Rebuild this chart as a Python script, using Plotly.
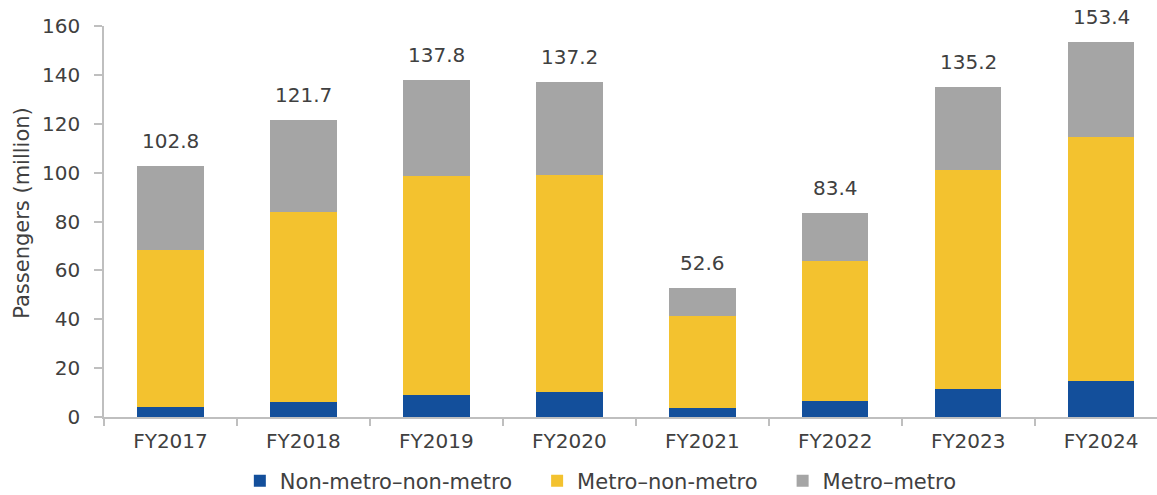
import plotly.graph_objects as go

categories = ["FY2017", "FY2018", "FY2019", "FY2020", "FY2021", "FY2022", "FY2023", "FY2024"]
non_metro_non_metro = [4.1, 6.3, 9.0, 10.1, 3.7, 6.7, 11.3, 14.8]
metro_non_metro = [64.2, 77.6, 89.6, 88.9, 37.5, 57.0, 89.8, 99.8]
metro_metro = [34.5, 37.8, 39.2, 38.2, 11.4, 19.7, 34.1, 38.8]
totals = [102.8, 121.7, 137.8, 137.2, 52.6, 83.4, 135.2, 153.4]

series_names = ["Non-metro\u2013non-metro", "Metro\u2013non-metro", "Metro\u2013metro"]
series_colors = ["#134F9B", "#F3C22F", "#A5A5A5"]

FONT = "DejaVu Sans"
TXT = "#404040"
AX = "#BFBFBF"
PAD = "\u00a0\u00a0\u00a0"

fig = go.Figure()
for name, vals, col in zip(series_names, [non_metro_non_metro, metro_non_metro, metro_metro], series_colors):
    fig.add_trace(go.Bar(
        x=categories, y=vals, name=name + PAD,
        marker=dict(color=col, line=dict(width=0)),
        width=0.5,
    ))

for c, t in zip(categories, totals):
    fig.add_annotation(
        x=c, y=t, text=f"{t:.1f}", showarrow=False,
        yanchor="bottom", yshift=11,
        font=dict(family=FONT, size=20, color=TXT),
    )

fig.add_annotation(
    text="Passengers (million)", textangle=-90, showarrow=False,
    xref="paper", yref="paper", x=-0.078, y=0.522,
    xanchor="center", yanchor="middle",
    font=dict(family=FONT, size=21, color=TXT),
)

fig.update_layout(
    width=1157, height=495,
    barmode="stack",
    plot_bgcolor="white", paper_bgcolor="white",
    margin=dict(l=104, r=0, t=26, b=78, autoexpand=False),
    font=dict(family=FONT, size=20, color=TXT),
    showlegend=True,
    legend=dict(
        orientation="h", x=0.129, xanchor="left", y=-0.164, yanchor="middle",
        font=dict(family=FONT, size=21, color=TXT),
        traceorder="normal",
        bgcolor="rgba(0,0,0,0)",
    ),
)

fig.update_xaxes(
    type="category", range=[-0.5, 7.42], automargin=False,
    showline=True, linecolor=AX, linewidth=1.5,
    ticks="outside", tickson="boundaries", ticklen=7, tickcolor=AX, tickwidth=1.5,
    ticklabelstandoff=5,
    showgrid=False, zeroline=False,
    tickfont=dict(family=FONT, size=20, color=TXT),
)
fig.update_yaxes(
    range=[0, 160], dtick=20, automargin=False,
    showline=True, linecolor=AX, linewidth=1.5,
    ticks="outside", ticklen=8, tickcolor=AX, tickwidth=1.5,
    ticklabelstandoff=10,
    showgrid=False, zeroline=False,
    tickfont=dict(family=FONT, size=20, color=TXT),
)

fig.write_html(
    "out.html",
    config={"displayModeBar": False},
    post_script="document.body.style.margin='0';document.body.style.overflow='hidden';",
)
